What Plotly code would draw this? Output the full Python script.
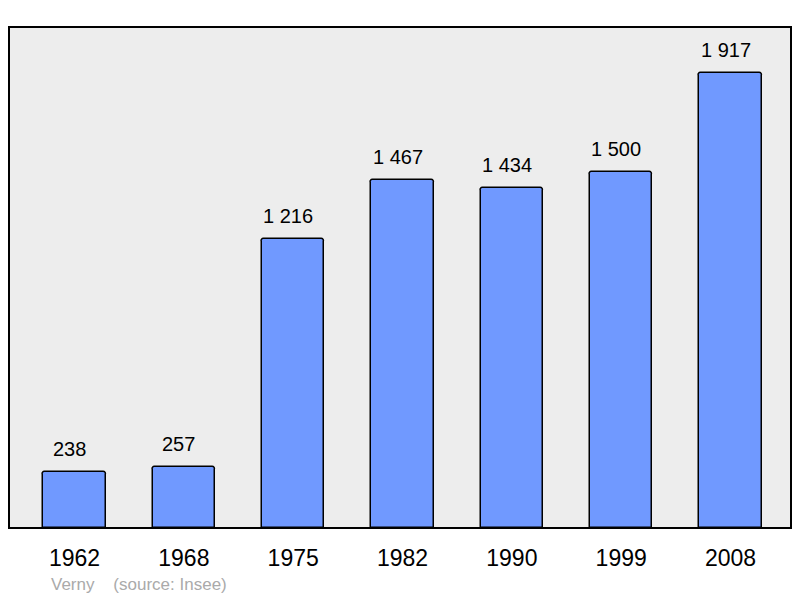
import plotly.graph_objects as go

years = ["1962", "1968", "1975", "1982", "1990", "1999", "2008"]
population = [238, 257, 1216, 1467, 1434, 1500, 1917]
commune = "Verny"
source = "(source: Insee)"

xs = list(range(len(years)))

fig = go.Figure()
fig.add_trace(go.Bar(
    x=xs, y=population, width=0.57,
    marker=dict(color="#7099ff", line=dict(color="#000000", width=1.5), cornerradius=3),
    hoverinfo="skip",
))

for x, v in zip(xs, population):
    fig.add_annotation(x=x, y=v, text=f"{v:,}".replace(",", " "), showarrow=False,
                       yanchor="bottom", yshift=10, xshift=-5,
                       font=dict(family="Liberation Sans, Arial", size=20, color="#000"))

fig.add_shape(type="rect", xref="paper", yref="paper", x0=0, y0=0, x1=1, y1=1,
              line=dict(color="#000", width=2), layer="above")

fig.add_annotation(xref="paper", yref="paper", x=(49-9)/782, y=-(584-528)/501,
                   xanchor="left", yanchor="middle", showarrow=False,
                   text=commune + "\u00a0\u00a0\u00a0\u00a0" + source,
                   font=dict(family="Liberation Sans, Arial", size=17, color="#aaaaaa"))

fig.update_layout(
    width=800, height=598,
    margin=dict(l=9, r=9, t=27, b=70),
    paper_bgcolor="white", plot_bgcolor="#ededed",
    showlegend=False, bargap=0,
    xaxis=dict(range=[-0.599, 6.553], tickmode="array", tickvals=xs, ticktext=years,
               showgrid=False, zeroline=False, ticks="outside", ticklen=9, tickcolor="rgba(0,0,0,0)",
               tickfont=dict(family="Liberation Sans, Arial", size=23, color="#000"), fixedrange=True),
    yaxis=dict(range=[0, 2111], showgrid=False, zeroline=False, showticklabels=False, fixedrange=True),
)

fig.write_html("out.html", config={"displayModeBar": False},
               post_script="document.body.style.margin='0';document.body.style.overflow='hidden';")
